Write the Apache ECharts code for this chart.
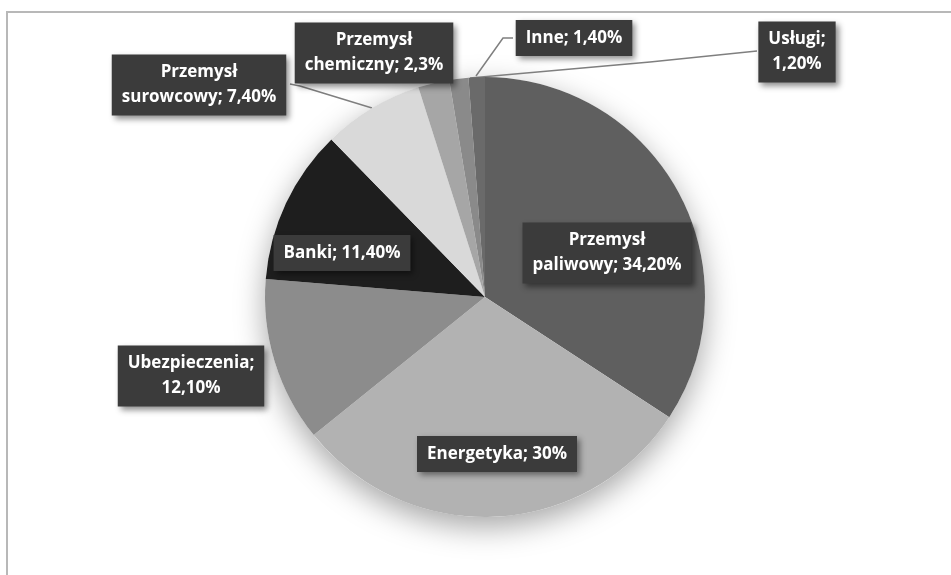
<!DOCTYPE html>
<html>
<head>
<meta charset="utf-8">
<script src="https://cdn.jsdelivr.net/npm/echarts@6/dist/echarts.min.js"></script>
<style>
  html, body { margin: 0; padding: 0; background: #fff; }
  #main { width: 951px; height: 575px; }
</style>
</head>
<body>
<div id="main"></div>
<script>
// dane wykresu
var names = ['Przemysł paliwowy', 'Energetyka', 'Ubezpieczenia', 'Banki',
             'Przemysł surowcowy', 'Przemysł chemiczny', 'Inne', 'Usługi'];
var values = [34.2, 30, 12.1, 11.4, 7.4, 2.3, 1.4, 1.2];
var labelTexts = ['Przemysł\npaliwowy; 34,20%', 'Energetyka; 30%', 'Ubezpieczenia;\n12,10%',
                  'Banki; 11,40%', 'Przemysł\nsurowcowy; 7,40%', 'Przemysł\nchemiczny; 2,3%',
                  'Inne; 1,40%', 'Usługi;\n1,20%'];

// style
var colors = ['#5f5f5f', '#b2b2b2', '#8c8c8c', '#1e1e1e', '#d9d9d9', '#a6a6a6', '#8a8a8a', '#6a6a6a'];
// pozycje etykiet (srodek ramki) i linie odniesienia
var labelPos = [[607, 253], [497, 454], [191, 376], [342, 253], [199, 85], [374, 53], [574, 38], [797, 52]];
var linePts = [null, null, null, null,
               [[372, 108], [300, 86], [290, 84]],
               null,
               [[476, 76], [503, 38], [513, 38]],
               [[470, 78], [650, 62], [757, 51]]];

var myChart = echarts.init(document.getElementById('main'));

var pieData = [];
for (let i = 0; i < names.length; i++) {
    pieData.push({
        name: names[i],
        value: values[i],
        itemStyle: { color: colors[i] },
        labelLine: { show: linePts[i] != null }
    });
}

var option = {
    backgroundColor: '#fff',
    animation: false,
    graphic: [{
        type: 'rect',
        shape: { x: 7, y: 12, width: 1000, height: 700 },
        style: { fill: 'none', stroke: '#b8b8b8', lineWidth: 2 },
        silent: true,
        z: -10
    }],
    series: [
        {
            // cien pod kolem
            type: 'pie',
            center: [485, 297],
            radius: 220,
            silent: true,
            z: 1,
            label: { show: false },
            labelLine: { show: false },
            itemStyle: {
                color: '#fff',
                shadowBlur: 30,
                shadowOffsetY: 10,
                shadowColor: 'rgba(0,0,0,0.35)'
            },
            data: [1]
        },
        {
            type: 'pie',
            center: [485, 297],
            radius: 220,
            startAngle: 90,
            clockwise: true,
            z: 2,
            avoidLabelOverlap: false,
            itemStyle: { borderWidth: 0 },
            label: {
                show: true,
                position: 'outside',
                formatter: function (p) { return labelTexts[p.dataIndex]; },
                color: '#fff',
                fontFamily: 'Open Sans',
                fontWeight: 'bold',
                fontSize: 17,
                lineHeight: 25,
                align: 'center',
                backgroundColor: '#3b3b3b',
                padding: [6, 10, 5, 10],
                shadowColor: 'rgba(0,0,0,0.45)',
                shadowBlur: 6,
                shadowOffsetX: 3,
                shadowOffsetY: 3
            },
            labelLine: {
                show: true,
                lineStyle: { color: '#7f7f7f', width: 1.5 }
            },
            labelLayout: function (params) {
                let i = params.dataIndex;
                let res = {
                    x: labelPos[i][0],
                    y: labelPos[i][1],
                    align: 'center',
                    verticalAlign: 'middle'
                };
                if (linePts[i]) {
                    res.labelLinePoints = linePts[i];
                }
                return res;
            },
            data: pieData
        }
    ]
};

myChart.setOption(option);
</script>
</body>
</html>
